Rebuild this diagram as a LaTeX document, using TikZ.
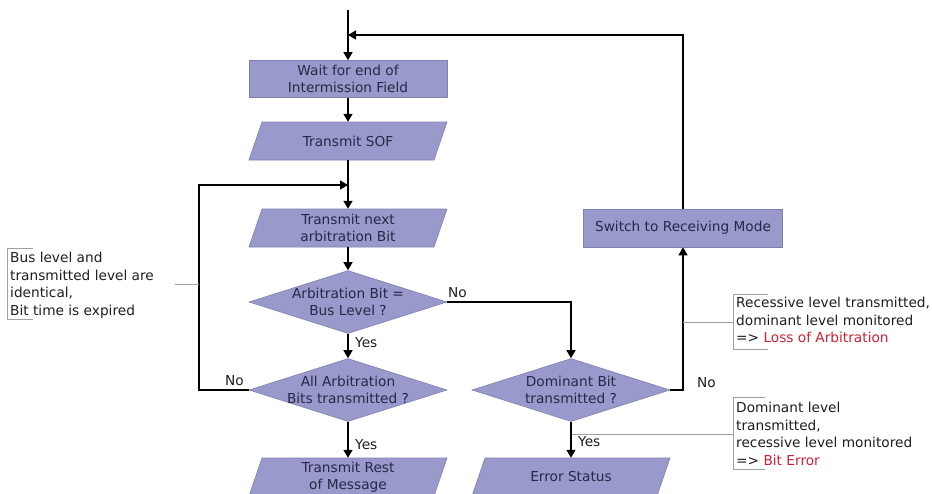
\documentclass[tikz,border=0pt]{standalone}
\usepackage{fontspec}
\setmainfont{DejaVu Sans}
\usetikzlibrary{shapes.geometric,arrows.meta}
\definecolor{boxfill}{RGB}{153,153,204}
\definecolor{boxline}{RGB}{128,128,176}
\definecolor{txt}{RGB}{40,40,70}
\definecolor{notegray}{RGB}{160,160,160}
\definecolor{notetxt}{RGB}{30,30,30}
\definecolor{errred}{RGB}{204,34,51}
% name, x, y, text, bottom offset
\newcommand{\ioshape}[5]{%
  \filldraw[shapefill] (#2-86-0.342*19-0.342*#5,#3+#5) -- (#2-86,#3-19) -- (#2+99,#3-19) -- (#2+99-0.342*19-0.342*#5,#3+#5) -- cycle;
  \node[iotext] (#1) at (#2,#3) {#4};}
\begin{document}
\begin{tikzpicture}[x=1pt,y=-1pt,
  font=\fontsize{13.7}{17.5}\selectfont,
  shapefill/.style={draw=boxline, fill=boxfill, line width=0.6pt},
  shapebase/.style={shapefill, inner sep=0pt},
  t/.style={label={[align=center,text=txt,inner sep=0pt]center:#1}},
  procbox/.style={shapebase, rectangle, minimum width=198pt, minimum height=37pt},
  iotext/.style={rectangle, inner sep=0pt, minimum width=198pt, minimum height=38pt, align=center, text=txt},
  decbox/.style={shapebase, diamond, minimum width=198pt, minimum height=63pt},
  arr/.style={-{Triangle[length=8pt,width=9pt]}, line width=1.4pt},
  noteline/.style={draw=notegray, line width=0.7pt},
  notetext/.style={anchor=north west, align=left, inner sep=0pt, text=notetxt},
  lab/.style={anchor=west, inner sep=0pt, text=notetxt}
]
\useasboundingbox (0,0) rectangle (932,493);
\clip (0,0) rectangle (932,493);

% nodes
\node[procbox, t={Wait for end of\\Intermission Field}] (b1) at (348,79) {};
\ioshape{sof}{348}{141}{Transmit SOF}{19}
\ioshape{tnb}{348}{228}{Transmit next\\arbitration Bit}{19}
\node[decbox, t={Arbitration Bit =\\Bus Level ?}] (d1) at (348,302) {};
\node[decbox, t={All Arbitration\\Bits transmitted ?}] (d2) at (348,390) {};
\ioshape{rest}{348}{477}{Transmit Rest\\of Message}{24}
\node[decbox, t={Dominant Bit\\transmitted ?}] (d3) at (571,390) {};
\ioshape{err}{571}{477}{Error Status}{24}
\node[procbox, minimum width=199pt, minimum height=38pt, t={Switch to Receiving Mode}] (sw) at (683,228) {};

\coordinate (start) at (348,10);
\coordinate (j1) at (348,35);
\coordinate (j2) at (348,185);
\coordinate (loopx) at (199,390);

% connectors
\draw[arr] (start) -- (b1.north);
\draw[arr] (sw.north) |- (j1);
\draw[arr] (b1.south) -- (sof.north);
\draw[arr] (sof.south) -- (tnb.north);
\draw[arr] (d2.west) -- (loopx) |- (j2);
\draw[arr] (tnb.south) -- (d1.north);
\draw[arr] (d1.south) -- (d2.north);
\draw[arr] (d1.east) -| (d3.north);
\draw[arr] (d2.south) -- (rest.north);
\draw[arr] (d3.south) -- (err.north);
\draw[arr] (d3.east) -| (sw.south);

% branch labels
\node[lab] (yes1) at (355,343) {Yes};
\node[lab] (no1) at (448,293) {No};
\node[lab] (no2) at (225,381) {No};
\node[lab] (yes2) at (355,445) {Yes};
\node[lab] (yes3) at (578,442) {Yes};
\node[lab] (no3) at (697,383) {No};

% annotations
\node[notetext] (n1) at (10,252) {Bus level and\\transmitted level are\\identical,\\Bit time is expired};
\draw[noteline] (33,248) -- (7,248) -- (7,319) -- (33,319);
\coordinate (n1a) at (175,284);
\coordinate (n1b) at (199,284);
\draw[noteline] (n1a) -- (n1b);

\node[notetext] (n2) at (736,297) {Recessive level transmitted,\\dominant level monitored\\=> \textcolor{errred}{Loss of Arbitration}};
\draw[noteline] (768,294) -- (733,294) -- (733,349) -- (768,349);
\coordinate (n2a) at (683,322);
\coordinate (n2b) at (733,322);
\draw[noteline] (n2a) -- (n2b);

\node[notetext] (n3) at (736,402) {Dominant level\\transmitted,\\recessive level monitored\\=> \textcolor{errred}{Bit Error}};
\draw[noteline] (765,397) -- (733,397) -- (733,469) -- (765,469);
\coordinate (n3a) at (572,434);
\coordinate (n3b) at (733,434);
\draw[noteline] (n3a) -- (n3b);
\end{tikzpicture}
\end{document}
